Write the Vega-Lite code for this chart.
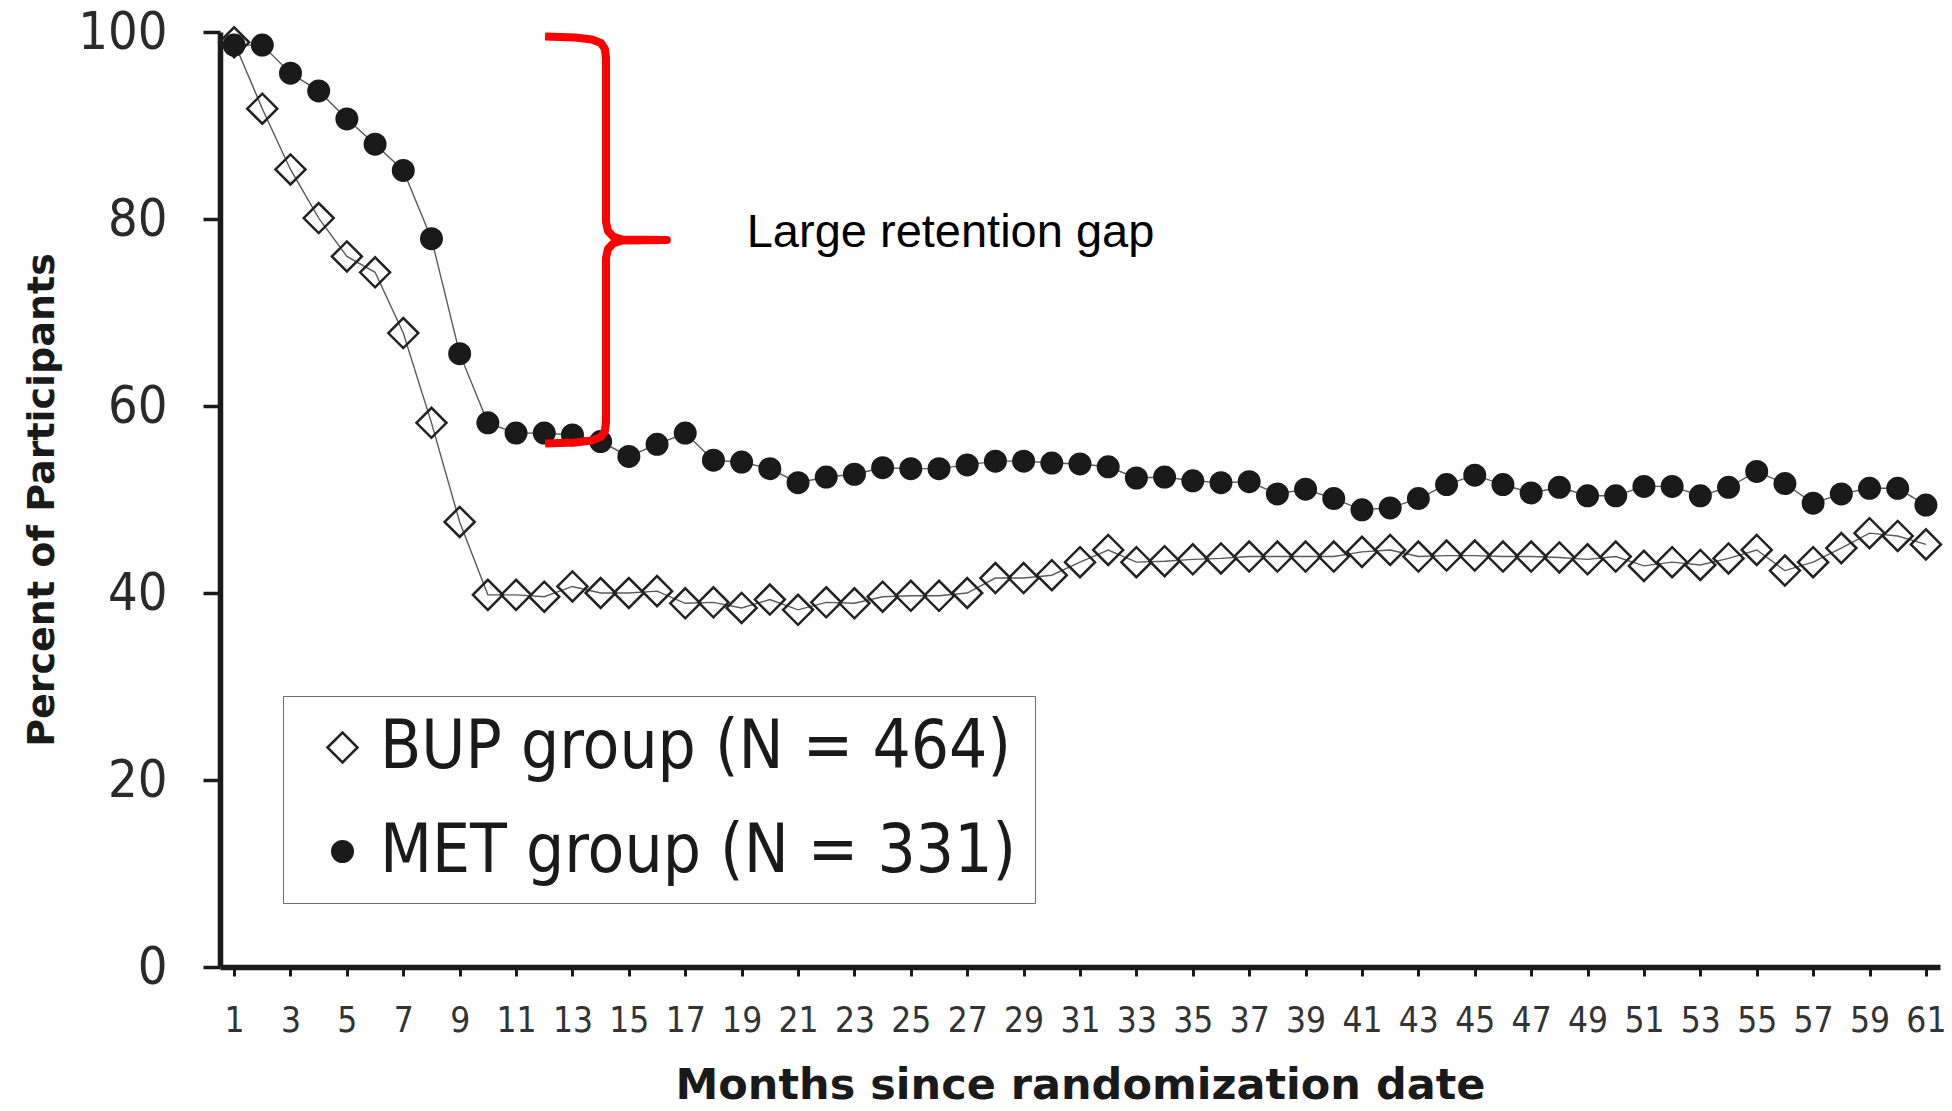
{
  "$schema": "https://vega.github.io/schema/vega-lite/v6.json",
  "width": 1720,
  "height": 935,
  "autosize": {"type": "none"},
  "padding": {"left": 220, "top": 32, "right": 12, "bottom": 144},
  "background": "white",
  "config": {"view": {"stroke": null}},
  "datasets": {
    "main": [
      {"month":1,"group":"BUP","pct":98.9},{"month":2,"group":"BUP","pct":91.8},{"month":3,"group":"BUP","pct":85.3},{"month":4,"group":"BUP","pct":80.1},{"month":5,"group":"BUP","pct":76.0},{"month":6,"group":"BUP","pct":74.3},{"month":7,"group":"BUP","pct":67.8},{"month":8,"group":"BUP","pct":58.2},{"month":9,"group":"BUP","pct":47.6},{"month":10,"group":"BUP","pct":39.8},
      {"month":11,"group":"BUP","pct":39.8},{"month":12,"group":"BUP","pct":39.6},{"month":13,"group":"BUP","pct":40.7},{"month":14,"group":"BUP","pct":40.0},{"month":15,"group":"BUP","pct":40.0},{"month":16,"group":"BUP","pct":40.2},{"month":17,"group":"BUP","pct":38.9},{"month":18,"group":"BUP","pct":39.0},{"month":19,"group":"BUP","pct":38.4},{"month":20,"group":"BUP","pct":39.3},
      {"month":21,"group":"BUP","pct":38.2},{"month":22,"group":"BUP","pct":39.0},{"month":23,"group":"BUP","pct":38.9},{"month":24,"group":"BUP","pct":39.6},{"month":25,"group":"BUP","pct":39.7},{"month":26,"group":"BUP","pct":39.7},{"month":27,"group":"BUP","pct":40.0},{"month":28,"group":"BUP","pct":41.6},{"month":29,"group":"BUP","pct":41.6},{"month":30,"group":"BUP","pct":41.9},
      {"month":31,"group":"BUP","pct":43.3},{"month":32,"group":"BUP","pct":44.6},{"month":33,"group":"BUP","pct":43.3},{"month":34,"group":"BUP","pct":43.4},{"month":35,"group":"BUP","pct":43.6},{"month":36,"group":"BUP","pct":43.7},{"month":37,"group":"BUP","pct":43.9},{"month":38,"group":"BUP","pct":43.9},{"month":39,"group":"BUP","pct":43.9},{"month":40,"group":"BUP","pct":43.9},
      {"month":41,"group":"BUP","pct":44.4},{"month":42,"group":"BUP","pct":44.6},{"month":43,"group":"BUP","pct":43.9},{"month":44,"group":"BUP","pct":44.0},{"month":45,"group":"BUP","pct":44.0},{"month":46,"group":"BUP","pct":43.9},{"month":47,"group":"BUP","pct":43.9},{"month":48,"group":"BUP","pct":43.8},{"month":49,"group":"BUP","pct":43.6},{"month":50,"group":"BUP","pct":43.9},
      {"month":51,"group":"BUP","pct":42.9},{"month":52,"group":"BUP","pct":43.3},{"month":53,"group":"BUP","pct":43.0},{"month":54,"group":"BUP","pct":43.7},{"month":55,"group":"BUP","pct":44.6},{"month":56,"group":"BUP","pct":42.4},{"month":57,"group":"BUP","pct":43.3},{"month":58,"group":"BUP","pct":44.8},{"month":59,"group":"BUP","pct":46.4},{"month":60,"group":"BUP","pct":46.1},{"month":61,"group":"BUP","pct":45.2},
      {"month":1,"group":"MET","pct":98.6},{"month":2,"group":"MET","pct":98.6},{"month":3,"group":"MET","pct":95.6},{"month":4,"group":"MET","pct":93.7},{"month":5,"group":"MET","pct":90.7},{"month":6,"group":"MET","pct":88.0},{"month":7,"group":"MET","pct":85.2},{"month":8,"group":"MET","pct":77.9},{"month":9,"group":"MET","pct":65.6},{"month":10,"group":"MET","pct":58.2},
      {"month":11,"group":"MET","pct":57.1},{"month":12,"group":"MET","pct":57.1},{"month":13,"group":"MET","pct":56.9},{"month":14,"group":"MET","pct":56.2},{"month":15,"group":"MET","pct":54.6},{"month":16,"group":"MET","pct":55.9},{"month":17,"group":"MET","pct":57.1},{"month":18,"group":"MET","pct":54.2},{"month":19,"group":"MET","pct":54.0},{"month":20,"group":"MET","pct":53.3},
      {"month":21,"group":"MET","pct":51.8},{"month":22,"group":"MET","pct":52.4},{"month":23,"group":"MET","pct":52.7},{"month":24,"group":"MET","pct":53.4},{"month":25,"group":"MET","pct":53.3},{"month":26,"group":"MET","pct":53.3},{"month":27,"group":"MET","pct":53.7},{"month":28,"group":"MET","pct":54.1},{"month":29,"group":"MET","pct":54.1},{"month":30,"group":"MET","pct":53.9},
      {"month":31,"group":"MET","pct":53.8},{"month":32,"group":"MET","pct":53.5},{"month":33,"group":"MET","pct":52.3},{"month":34,"group":"MET","pct":52.4},{"month":35,"group":"MET","pct":52.0},{"month":36,"group":"MET","pct":51.8},{"month":37,"group":"MET","pct":51.9},{"month":38,"group":"MET","pct":50.6},{"month":39,"group":"MET","pct":51.1},{"month":40,"group":"MET","pct":50.1},
      {"month":41,"group":"MET","pct":48.9},{"month":42,"group":"MET","pct":49.1},{"month":43,"group":"MET","pct":50.1},{"month":44,"group":"MET","pct":51.6},{"month":45,"group":"MET","pct":52.6},{"month":46,"group":"MET","pct":51.6},{"month":47,"group":"MET","pct":50.7},{"month":48,"group":"MET","pct":51.3},{"month":49,"group":"MET","pct":50.4},{"month":50,"group":"MET","pct":50.4},
      {"month":51,"group":"MET","pct":51.4},{"month":52,"group":"MET","pct":51.4},{"month":53,"group":"MET","pct":50.4},{"month":54,"group":"MET","pct":51.3},{"month":55,"group":"MET","pct":53.0},{"month":56,"group":"MET","pct":51.7},{"month":57,"group":"MET","pct":49.6},{"month":58,"group":"MET","pct":50.6},{"month":59,"group":"MET","pct":51.2},{"month":60,"group":"MET","pct":51.2},{"month":61,"group":"MET","pct":49.4}
    ],
    "brace": [
      {"i":1,"month":12.03,"pct":99.52},{"i":2,"month":13.09,"pct":99.41},{"i":3,"month":13.69,"pct":99.2},{"i":4,"month":14.01,"pct":98.82},{"i":5,"month":14.15,"pct":98.18},{"i":6,"month":14.19,"pct":97.22},
      {"i":7,"month":14.19,"pct":79.68},{"i":8,"month":14.26,"pct":78.72},{"i":9,"month":14.44,"pct":78.13},{"i":10,"month":14.76,"pct":77.81},{"i":11,"month":16.35,"pct":77.75},
      {"i":12,"month":14.76,"pct":77.7},{"i":13,"month":14.44,"pct":77.38},{"i":14,"month":14.26,"pct":76.79},{"i":15,"month":14.19,"pct":75.83},
      {"i":16,"month":14.19,"pct":58.29},{"i":17,"month":14.15,"pct":57.33},{"i":18,"month":14.01,"pct":56.68},{"i":19,"month":13.69,"pct":56.31},{"i":20,"month":13.09,"pct":56.1},{"i":21,"month":12.03,"pct":55.99}
    ],
    "note": [{"month":19.18,"pct":77.0,"label":"Large retention gap"}]
  },
  "layer": [
    {
      "data": {"name": "main"},
      "mark": {"type": "line", "color": "#5a5a5a", "strokeWidth": 1.4},
      "encoding": {
        "x": {"field": "month", "type": "quantitative",
          "scale": {"domain": [0.5, 61.5], "nice": false, "zero": false},
          "axis": {
            "values": [1,2,3,4,5,6,7,8,9,10,11,12,13,14,15,16,17,18,19,20,21,22,23,24,25,26,27,28,29,30,31,32,33,34,35,36,37,38,39,40,41,42,43,44,45,46,47,48,49,50,51,52,53,54,55,56,57,58,59,60,61],
            "labelExpr": "datum.value % 2 == 1 ? datum.label : ''",
            "labelOverlap": false, "labelFlush": false,
            "grid": false,
            "domainColor": "#1a1a1a", "domainWidth": 5.5,
            "tickColor": "#1a1a1a", "tickWidth": 3, "tickSize": 9,
            "labelFont": "DejaVu Sans Condensed", "labelFontSize": 35, "labelColor": "#333333",
            "labelBaseline": "alphabetic", "labelPadding": 55,
            "title": "Months since randomization date",
            "titleFont": "DejaVu Sans", "titleFontWeight": "bold", "titleFontSize": 43, "titleColor": "#1a1a1a",
            "titleBaseline": "alphabetic", "titleX": 860, "titleY": 131, "titleAnchor": "middle"
          }},
        "y": {"field": "pct", "type": "quantitative",
          "scale": {"domain": [0, 100], "nice": false},
          "axis": {
            "values": [0, 20, 40, 60, 80, 100],
            "grid": false,
            "domainColor": "#1a1a1a", "domainWidth": 5.5,
            "tickColor": "#1a1a1a", "tickWidth": 3.5, "tickSize": 17,
            "labelFont": "DejaVu Sans Condensed", "labelFontSize": 52, "labelColor": "#2a2a2a",
            "labelPadding": 36,
            "title": "Percent of Participants",
            "titleFont": "DejaVu Sans", "titleFontWeight": "bold", "titleFontSize": 38, "titleColor": "#1a1a1a",
            "titleAngle": -90, "titleBaseline": "alphabetic", "titleX": -166.5, "titleY": 467.5, "titleAnchor": "middle"
          }},
        "detail": {"field": "group", "type": "nominal"}
      }
    },
    {
      "data": {"name": "main"},
      "mark": {"type": "point", "strokeWidth": 2.5, "opacity": 1},
      "encoding": {
        "x": {"field": "month", "type": "quantitative"},
        "y": {"field": "pct", "type": "quantitative"},
        "shape": {"field": "group", "type": "nominal",
          "scale": {"domain": ["BUP", "MET"], "range": ["diamond", "circle"]},
          "legend": {
            "title": null, "orient": "none", "legendX": 63, "legendY": 664, "direction": "vertical",
            "padding": 18, "strokeColor": "#6f6f6f", "fillColor": "white", "cornerRadius": 0,
            "labelFont": "DejaVu Sans Condensed", "labelFontSize": 67, "labelColor": "#1a1a1a", "labelLimit": 0,
            "labelExpr": "datum.value == 'BUP' ? 'BUP group (N = 464)' : 'MET group (N = 331)'",
            "rowPadding": 36, "symbolOffset": 8, "labelOffset": 4, "symbolStrokeWidth": 2.5,
            "encode": {
              "legend": {"update": {"strokeWidth": {"value": 2.5}}},
              "symbols": {
                "enter": {"shape": {"signal": "datum.value == 'BUP' ? 'M-2.1,0H-1M1,0H2.1M-1,0L0,-1L1,0L0,1Z' : 'M-3,0H-1M1,0H3M-1,0A1,1 0 1,1 1,0A1,1 0 1,1 -1,0Z'"}},
                "update": {"shape": {"signal": "datum.value == 'BUP' ? 'M-2.1,0H-1M1,0H2.1M-1,0L0,-1L1,0L0,1Z' : 'M-3,0H-1M1,0H3M-1,0A1,1 0 1,1 1,0A1,1 0 1,1 -1,0Z'"}}
              }
            }
          }},
        "fill": {"field": "group", "type": "nominal",
          "scale": {"domain": ["BUP", "MET"], "range": ["transparent", "#1a1a1a"]}},
        "stroke": {"field": "group", "type": "nominal",
          "scale": {"domain": ["BUP", "MET"], "range": ["#222222", "#1a1a1a"]}},
        "size": {"field": "group", "type": "nominal",
          "scale": {"domain": ["BUP", "MET"], "range": [900, 420]}}
      }
    },
    {
      "data": {"name": "brace"},
      "mark": {"type": "line", "color": "#ff0000", "strokeWidth": 8, "strokeJoin": "round", "strokeCap": "butt"},
      "encoding": {
        "x": {"field": "month", "type": "quantitative"},
        "y": {"field": "pct", "type": "quantitative"},
        "order": {"field": "i", "type": "quantitative"}
      }
    },
    {
      "data": {"name": "note"},
      "mark": {"type": "text", "font": "Liberation Sans", "fontSize": 47, "align": "left", "baseline": "alphabetic", "color": "#000000"},
      "encoding": {
        "x": {"field": "month", "type": "quantitative"},
        "y": {"field": "pct", "type": "quantitative"},
        "text": {"field": "label"}
      }
    }
  ]
}
